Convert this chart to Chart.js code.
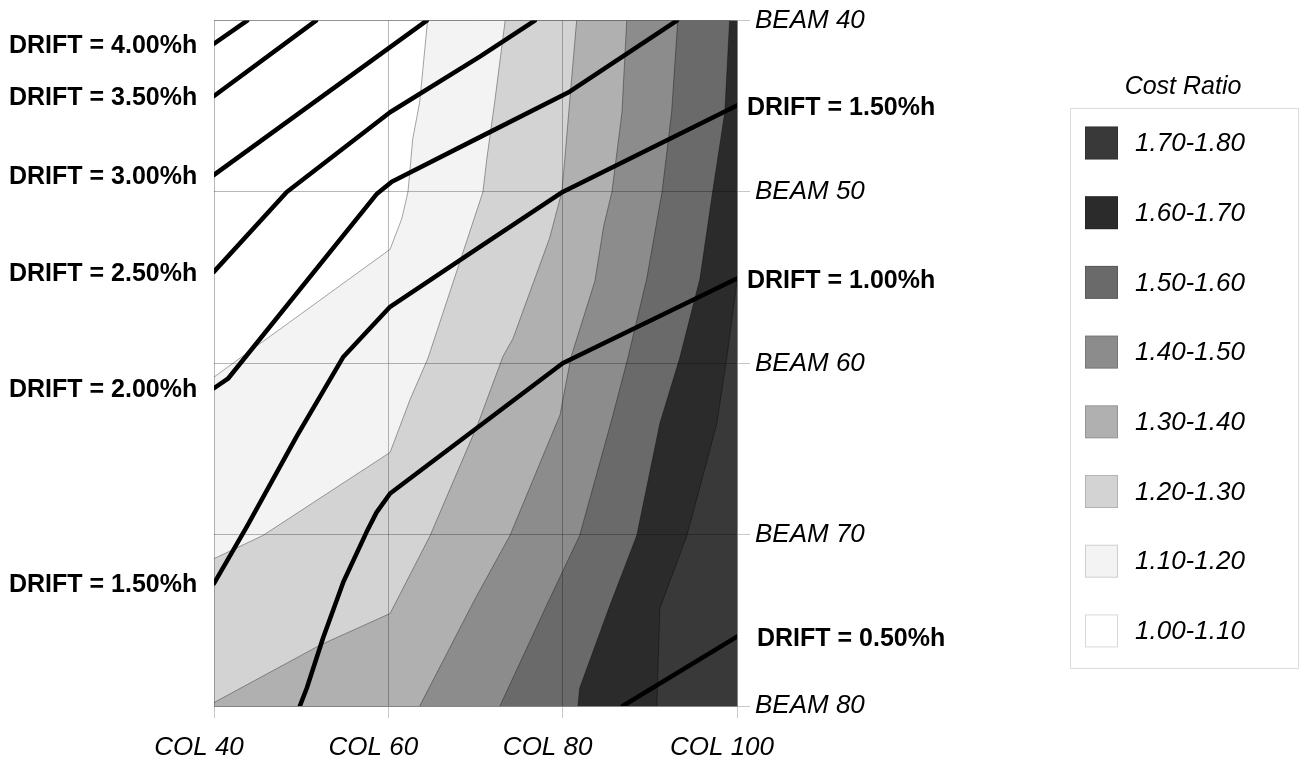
<!DOCTYPE html>
<html>
<head>
<meta charset="utf-8">
<title>Cost Ratio contours</title>
<script src="https://cdn.jsdelivr.net/npm/chart.js@4.4.1/dist/chart.umd.min.js"></script>
<style>
  html, body { margin: 0; padding: 0; background: #fff; }
  canvas { display: block; }
</style>
</head>
<body>
<canvas id="contour-chart" width="1300" height="760"></canvas>
<script>
// axis ticks
const colTicks = [40, 60, 80, 100];
const beamTicks = [40, 50, 60, 70, 80];

// cost ratio bands, lowest first
const costBands = ['1.00-1.10', '1.10-1.20', '1.20-1.30', '1.30-1.40', '1.40-1.50', '1.50-1.60', '1.60-1.70', '1.70-1.80'];

// contour boundaries [COL, BEAM]
const cost110 = [[64.5, 40], [63.6, 44.75], [62.8, 46.9], [62.25, 50], [61.55, 51.55], [60.2, 53.35], [40, 60.8]];
const cost120 = [[73.4, 40], [72.2, 44.75], [71.3, 48.05], [70.85, 50], [70.3, 50.85], [64.55, 59.7], [62.5, 62.1], [60.2, 65.2], [45.6, 70.05], [40, 71.4]];
const cost130 = [[81.6, 40], [80.8, 44.75], [80.25, 48.05], [79.9, 50], [78.5, 52.7], [74.3, 58.55], [73.15, 59.6], [70.3, 63.5], [64.8, 70.05], [60.2, 74.6], [52.15, 76.45], [40, 79.8]];
const cost140 = [[87.35, 40], [86.8, 45.35], [85.65, 50], [84.7, 52], [83.7, 55.2], [80.95, 59.65], [79.7, 63], [73.95, 70.05], [69.95, 73.75], [63.6, 80]];
const cost150 = [[93.2, 40], [92.5, 45.35], [91.4, 50], [89.65, 55.05], [87.5, 59.65], [85.65, 63.25], [81.95, 70.05], [78.5, 73.75], [72.8, 80]];
const cost160 = [[99.15, 40], [98.6, 45.35], [97.2, 50], [95.75, 55.05], [93.45, 59.65], [91.15, 63.5], [88.5, 70.05], [85.4, 74.15], [81.95, 78.95], [81.75, 80]];
const cost170 = [[100, 55.2], [98.85, 59.6], [97.7, 63.5], [94.25, 70.05], [91.15, 74.3], [90.8, 80]];

// drift lines [COL, BEAM]
const driftLevels = ['4.00', '3.50', '3.00', '2.50', '2.00', '1.50', '1.00', '0.50'];
const drift400 = [[40, 41.35], [43.8, 40]];
const drift350 = [[40, 44.4], [51.7, 40]];
const drift300 = [[40, 49.0], [64.4, 40]];
const drift250 = [[40, 54.65], [48.35, 50], [60.2, 45.35], [70.5, 42.1], [76.8, 40]];
const drift200 = [[40, 61.45], [41.6, 60.9], [58.7, 50.1], [60.4, 49.4], [70.5, 46.8], [80.8, 44.15], [93.1, 40]];
const drift150 = [[40, 72.85], [43.8, 69.5], [49.5, 64.25], [54.8, 59.65], [60.2, 56.7], [70.5, 53.2], [80, 50], [100, 44.95]];
const drift100 = [[49.85, 80], [50.65, 78.95], [52.5, 76.05], [54.85, 72.75], [57.5, 69.85], [58.65, 68.7], [60.2, 67.6], [80, 60], [100, 55.05]];
const drift050 = [[86.9, 80], [100, 75.95]];

const bandColors = ['#ffffff', '#f3f3f3', '#d3d3d3', '#b0b0b0', '#8c8c8c', '#6a6a6a', '#2b2b2b', '#393939'];
const FONT = '"Liberation Sans", Arial, Helvetica, sans-serif';

const levels = [cost110, cost120, cost130, cost140, cost150, cost160, cost170];
const drifts = [drift400, drift350, drift300, drift250, drift200, drift150, drift100, drift050];

const toXY = pts => pts.map(([x, y]) => ({ x: x, y: y }));

// everything on the low-cost side (left / top) of a contour
function regionLeftOf(boundary) {
  const pts = [[40, 40]];
  if (boundary[0][0] === 100) pts.push([100, 40]);
  boundary.forEach(p => pts.push(p));
  const end = boundary[boundary.length - 1];
  if (end[1] === 80 && end[0] > 40) pts.push([40, 80]);
  return pts;
}

const datasets = [];

drifts.forEach(line => {
  datasets.push({
    data: toXY(line),
    borderColor: '#000',
    borderWidth: 4.5,
    borderCapStyle: 'round',
    borderJoinStyle: 'round',
    pointRadius: 0,
    fill: false,
    order: 0
  });
});

levels.forEach(b => {
  datasets.push({
    data: toXY(b),
    borderColor: 'rgba(0,0,0,0.35)',
    borderWidth: 1,
    pointRadius: 0,
    fill: false,
    order: 1
  });
});

levels.forEach((b, i) => {
  datasets.push({
    data: toXY(regionLeftOf(b)),
    backgroundColor: bandColors[i],
    borderColor: 'transparent',
    borderWidth: 0,
    pointRadius: 0,
    fill: 'shape',
    order: 2 + i
  });
});

datasets.push({
  data: toXY([[40, 40], [100, 40], [100, 80], [40, 80]]),
  backgroundColor: bandColors[7],
  borderColor: 'transparent',
  borderWidth: 0,
  pointRadius: 0,
  fill: 'shape',
  order: 9
});

const labelsPlugin = {
  id: 'driftLabels',
  afterDraw(chart) {
    const ctx = chart.ctx;
    const x = chart.scales.x;
    const y = chart.scales.y;
    ctx.save();
    ctx.fillStyle = '#000';
    ctx.textBaseline = 'middle';
    ctx.textAlign = 'left';
    ctx.font = 'bold 25px ' + FONT;
    drifts.forEach((line, i) => {
      const text = 'DRIFT = ' + driftLevels[i] + '%h';
      const first = line[0];
      const last = line[line.length - 1];
      if (first[0] === 40) {
        ctx.fillText(text, 9, y.getPixelForValue(first[1]) + 2);
      }
      if (last[0] === 100) {
        const shift = last[1] > 70 ? 20 : 10;
        ctx.fillText(text, x.right + shift, y.getPixelForValue(last[1]) + 3);
      }
    });

    // legend
    ctx.strokeStyle = '#dcdcdc';
    ctx.lineWidth = 1;
    ctx.strokeRect(1070.5, 108.5, 228, 560);
    ctx.textAlign = 'center';
    ctx.font = 'italic 25px ' + FONT;
    ctx.fillText('Cost Ratio', 1183, 87);
    ctx.textAlign = 'left';
    ctx.font = 'italic 26px ' + FONT;
    for (let k = 0; k < costBands.length; k++) {
      const j = costBands.length - 1 - k;
      const yc = 143 + k * 69.7;
      ctx.fillStyle = bandColors[j];
      ctx.fillRect(1085, yc - 16.5, 33, 33);
      ctx.strokeStyle = 'rgba(0,0,0,0.15)';
      ctx.strokeRect(1085.5, yc - 16, 32, 32);
      ctx.fillStyle = '#000';
      ctx.fillText(costBands[j], 1135, yc + 1);
    }
    ctx.restore();
  }
};

const ctx = document.getElementById('contour-chart').getContext('2d');
new Chart(ctx, {
  type: 'line',
  data: { datasets: datasets },
  options: {
    responsive: false,
    animation: false,
    events: [],
    elements: { line: { tension: 0 } },
    layout: { padding: { left: 214, top: 18, right: 0, bottom: 0 } },
    plugins: {
      legend: { display: false },
      tooltip: { enabled: false }
    },
    scales: {
      x: {
        type: 'linear',
        min: 40,
        max: 100,
        afterBuildTicks: axis => { axis.ticks = colTicks.map(v => ({ value: v })); },
        afterFit: axis => { axis.height = 54; },
        grid: { color: 'rgba(0,0,0,0.28)', tickColor: '#c8c8c8', tickLength: 12, z: 1 },
        border: { color: 'rgba(0,0,0,0.28)', z: 1 },
        ticks: {
          callback: v => 'COL ' + v,
          color: '#000',
          font: { family: FONT, size: 26, style: 'italic' },
          labelOffset: -15,
          padding: 14,
          maxRotation: 0,
          autoSkip: false
        }
      },
      y: {
        type: 'linear',
        position: 'right',
        reverse: true,
        min: 40,
        max: 80,
        afterBuildTicks: axis => { axis.ticks = beamTicks.map(v => ({ value: v })); },
        afterFit: axis => { axis.width = 1300 - 737; },
        grid: { color: 'rgba(0,0,0,0.28)', tickColor: '#c8c8c8', tickLength: 13, z: 1 },
        border: { color: 'rgba(0,0,0,0.28)', z: 1 },
        ticks: {
          callback: v => 'BEAM ' + v,
          color: '#000',
          font: { family: FONT, size: 26, style: 'italic' },
          padding: 5,
          autoSkip: false
        }
      }
    }
  },
  plugins: [labelsPlugin]
});
</script>
</body>
</html>
